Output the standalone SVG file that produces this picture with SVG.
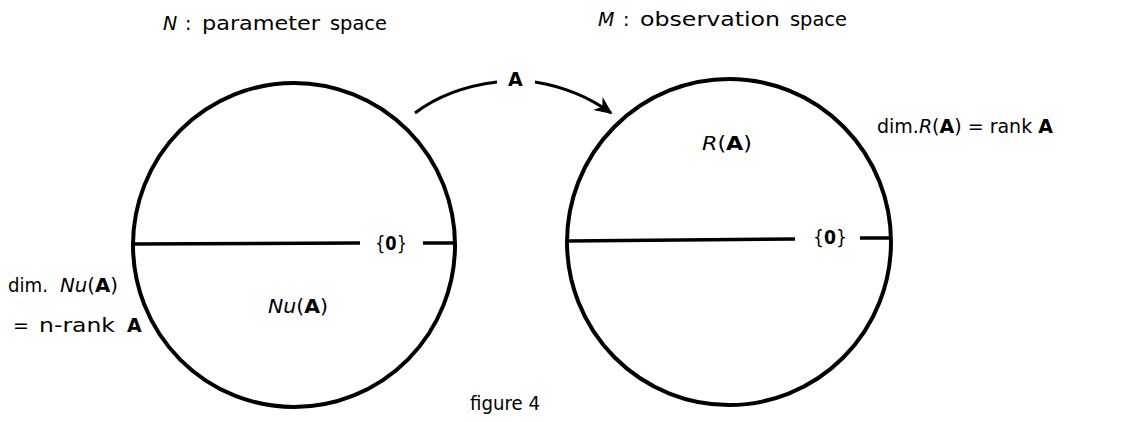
<svg xmlns="http://www.w3.org/2000/svg" width="1126" height="422" viewBox="0 0 1126 422">
<style>
  text { font-family: "DejaVu Sans", "Liberation Sans", Arial, sans-serif; font-size: 19px; fill: #000; }
  .it { font-style: italic; }
  .b { font-weight: bold; }
  .circ { fill: none; stroke: #000; stroke-width: 4; }
  .div { stroke: #000; stroke-width: 3.5; fill: none; }
  .conn { fill: none; stroke: #000; stroke-width: 3; }
</style>
<defs>
  <marker id="arrow" viewBox="0 0 10 10" refX="9" refY="5" markerWidth="6" markerHeight="6" orient="auto" markerUnits="strokeWidth">
    <path d="M0,0.5 L10,5 L0,9.5 L3,5 z" fill="#000"/>
  </marker>
</defs>
<rect width="1126" height="422" fill="#fff"/>

<g id="parameter-space">
  <text y="30"><tspan class="it" x="163">N</tspan><tspan x="185">:</tspan><tspan x="202" textLength="118" lengthAdjust="spacingAndGlyphs">parameter</tspan><tspan x="330" textLength="57" lengthAdjust="spacingAndGlyphs">space</tspan></text>
  <ellipse class="circ" cx="294" cy="245" rx="161" ry="162"/>
  <line class="div" x1="133" y1="244" x2="360" y2="243"/>
  <line class="div" x1="423" y1="243" x2="455" y2="243"/>
  <text x="375" y="250" textLength="32" lengthAdjust="spacingAndGlyphs">{<tspan class="b">0</tspan>}</text>
  <text x="268" y="313" textLength="60" lengthAdjust="spacingAndGlyphs"><tspan class="it">Nu</tspan>(<tspan class="b">A</tspan>)</text>
  <text y="292"><tspan x="8" textLength="40" lengthAdjust="spacingAndGlyphs">dim.</tspan><tspan x="60" textLength="58" lengthAdjust="spacingAndGlyphs"><tspan class="it">Nu</tspan>(<tspan class="b">A</tspan>)</tspan></text>
  <text y="332"><tspan x="13">=</tspan><tspan x="39" textLength="76" lengthAdjust="spacingAndGlyphs">n-rank</tspan><tspan class="b" x="127">A</tspan></text>
</g>

<g id="observation-space">
  <text y="26"><tspan class="it" x="598">M</tspan><tspan x="623">:</tspan><tspan x="640" textLength="140" lengthAdjust="spacingAndGlyphs">observation</tspan><tspan x="790" textLength="57" lengthAdjust="spacingAndGlyphs">space</tspan></text>
  <ellipse class="circ" cx="729" cy="242" rx="162" ry="163"/>
  <line class="div" x1="567" y1="241" x2="795" y2="239"/>
  <line class="div" x1="860" y1="238" x2="890" y2="238"/>
  <text x="813" y="244" textLength="34" lengthAdjust="spacingAndGlyphs">{<tspan class="b">0</tspan>}</text>
  <text x="702" y="150" textLength="50" lengthAdjust="spacingAndGlyphs"><tspan class="it">R</tspan>(<tspan class="b">A</tspan>)</text>
  <text x="877" y="133" font-size="18">dim.<tspan class="it">R</tspan>(<tspan class="b">A</tspan>) = rank <tspan class="b">A</tspan></text>
</g>

<g id="connectors">
  <path class="conn" d="M415,113 Q448,88 497,82"/>
  <path class="conn" d="M535,82 Q578,89 611,113" marker-end="url(#arrow)"/>
  <text class="b" x="508" y="86">A</text>
</g>

<g id="caption">
  <text x="470" y="410" textLength="70" lengthAdjust="spacingAndGlyphs">figure 4</text>
</g>
</svg>
